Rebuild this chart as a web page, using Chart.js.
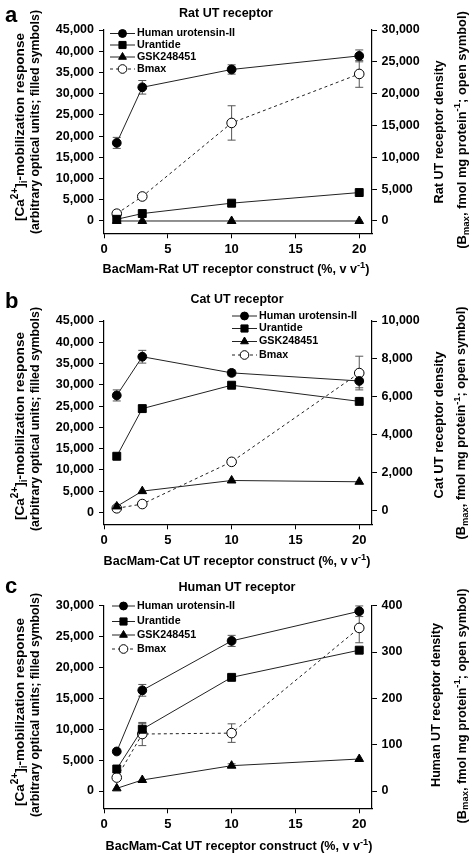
<!DOCTYPE html>
<html>
<head>
<meta charset="utf-8">
<script src="https://cdn.jsdelivr.net/npm/chart.js@4.4.1/dist/chart.umd.min.js"></script>
<style>
  html, body { margin: 0; padding: 0; background: #fff; }
  canvas { display: block; }
</style>
</head>
<body>
<canvas id="panelA" width="474" height="285"></canvas>
<canvas id="panelB" width="474" height="285"></canvas>
<canvas id="panelC" width="474" height="284"></canvas>
<script>
// construct dose (%, v/v)
const doses = [1, 3, 10, 20];
const xTicks = [0, 5, 10, 15, 20];

// a - rat UT receptor
const ratHumanUII = [18400, 31500, 35700, 38900];
const ratHumanUIIErr = [1300, 1600, 1100, 1400];
const ratUrantide = [400, 1750, 4200, 6700];
const ratUrantideErr = [0, 0, 0, 0];
const ratGSK = [0, 0, 0, 0];
const ratGSKErr = [0, 0, 0, 0];
const ratBmax = [1150, 3850, 15400, 23100];
const ratBmaxErr = [0, 0, 2700, 2100];
const ratLeftTicks = [0, 5000, 10000, 15000, 20000, 25000, 30000, 35000, 40000, 45000];
const ratRightTicks = [0, 5000, 10000, 15000, 20000, 25000, 30000];

// b - cat UT receptor
const catHumanUII = [27500, 36600, 32800, 30900];
const catHumanUIIErr = [1300, 1500, 700, 1600];
const catUrantide = [13200, 24400, 29900, 26100];
const catUrantideErr = [0, 800, 0, 0];
const catGSK = [1400, 5000, 7500, 7200];
const catGSKErr = [0, 0, 0, 0];
const catBmax = [105, 330, 2560, 7250];
const catBmaxErr = [0, 0, 0, 890];
const catLeftTicks = [0, 5000, 10000, 15000, 20000, 25000, 30000, 35000, 40000, 45000];
const catRightTicks = [0, 2000, 4000, 6000, 8000, 10000];

// c - human UT receptor
const humHumanUII = [6400, 16300, 24300, 29100];
const humHumanUIIErr = [0, 950, 900, 860];
const humUrantide = [3560, 10000, 18400, 22800];
const humUrantideErr = [0, 900, 0, 0];
const humGSK = [430, 1780, 4100, 5180];
const humGSKErr = [0, 0, 300, 0];
const humBmax = [29, 123, 125, 352];
const humBmaxErr = [0, 25, 20, 32];
const humLeftTicks = [0, 5000, 10000, 15000, 20000, 25000, 30000];
const humRightTicks = [0, 100, 200, 300, 400];

const legendLabels = ["Human urotensin-II", "Urantide", "GSK248451", "Bmax"];

const FONT = "'Liberation Sans', Arial, sans-serif";
const W = 474;

Chart.defaults.font.family = FONT;
Chart.defaults.font.weight = "bold";
Chart.defaults.color = "#000";

const pts = (vals) => vals.map((v, i) => ({ x: doses[i], y: v }));
const px = (n) => Math.round(n * 100) / 100;

function measureRuns(ctx, parts, size) {
  let total = 0;
  const runs = parts.map(([t, kind]) => {
    const s = px(kind ? size * 0.74 : size);
    ctx.font = `bold ${s}px ${FONT}`;
    const w = ctx.measureText(t).width;
    total += w;
    return { t, s, w, dy: kind === "sup" ? -size * 0.38 : kind === "sub" ? size * 0.3 : 0 };
  });
  return { runs, total };
}

// text with super/subscripts, centred on (x, y); optional fit = target width
function drawRich(ctx, parts, x, y, size, rot, fit) {
  ctx.save();
  ctx.translate(x, y);
  if (rot) ctx.rotate(rot);
  ctx.textBaseline = "middle";
  ctx.textAlign = "left";
  ctx.fillStyle = "#000";
  let m = measureRuns(ctx, parts, size);
  if (fit) m = measureRuns(ctx, parts, size * fit / m.total);
  let cx = -m.total / 2;
  m.runs.forEach((r) => {
    ctx.font = `bold ${r.s}px ${FONT}`;
    ctx.fillText(r.t, cx, r.dy);
    cx += r.w;
  });
  ctx.restore();
}

const errorBars = {
  id: "errorBars",
  beforeDatasetsDraw(chart) {
    const ctx = chart.ctx;
    const xs = chart.scales.x;
    ctx.save();
    ctx.strokeStyle = "#555";
    ctx.lineWidth = 1;
    chart.data.datasets.forEach((ds) => {
      const ys = chart.scales[ds.yAxisID];
      ds.data.forEach((p, i) => {
        const e = ds.err[i];
        if (!e) return;
        const x = xs.getPixelForValue(p.x);
        const top = ys.getPixelForValue(p.y + e);
        const bot = ys.getPixelForValue(p.y - e);
        ctx.beginPath();
        ctx.moveTo(x, top); ctx.lineTo(x, bot);
        ctx.moveTo(x - 4, top); ctx.lineTo(x + 4, top);
        ctx.moveTo(x - 4, bot); ctx.lineTo(x + 4, bot);
        ctx.stroke();
      });
    });
    ctx.restore();
  }
};

const panelText = {
  id: "panelText",
  afterDraw(chart) {
    const ctx = chart.ctx;
    const p = chart.options.plugins.panelText;
    ctx.save();
    ctx.fillStyle = "#000";
    ctx.font = `bold 22px ${FONT}`;
    ctx.textBaseline = "alphabetic";
    ctx.textAlign = "left";
    ctx.fillText(p.letter, 5, p.letterY);
    ctx.restore();

    drawRich(ctx, [[p.title]], p.titleX, p.titleY, 12.5, 0, p.titleW);
    drawRich(ctx, [[p.xTitle + " (%, v v"], ["-1", "sup"], [")"]], p.xTitleX, p.xTitleY, 12.5, 0, 267);

    const up = -Math.PI / 2;
    drawRich(ctx, [["[Ca"], ["2+", "sup"], ["]"], ["i", "sub"], ["-mobilization response"]], 20, p.leftY1, 12, up, 188);
    drawRich(ctx, [["(arbitrary optical units; filled symbols)"]], 36, p.leftY2, 12, up, 224);
    drawRich(ctx, [[p.rightTitle]], p.rightX1, p.rightY1, 12, up, p.rightW1);
    drawRich(ctx, [["(B"], ["max", "sub"], [", fmol mg protein"], ["-1", "sup"], ["; open symbol)"]], 462, p.rightY2, 12, up, p.rightW2);

    // legend
    const lg = p.legend;
    ctx.save();
    ctx.font = `bold 11px ${FONT}`;
    const lgSize = px(11 * 98 / ctx.measureText(legendLabels[0]).width);
    ctx.restore();
    chart.data.datasets.forEach((ds, i) => {
      const y = lg.rows[i];
      ctx.save();
      ctx.strokeStyle = "#222";
      ctx.lineWidth = 1;
      ctx.setLineDash(ds.borderDash || []);
      ctx.beginPath();
      ctx.moveTo(lg.x0, y); ctx.lineTo(lg.x1, y);
      ctx.stroke();
      ctx.setLineDash([]);
      ctx.fillStyle = ds.pointBackgroundColor;
      ctx.strokeStyle = "#000";
      ctx.lineWidth = 1;
      Chart.helpers.drawPoint(ctx, { pointStyle: ds.pointStyle, radius: ds.pointRadius * 0.9, rotation: 0, borderWidth: 1 }, (lg.x0 + lg.x1) / 2, y);
      ctx.fillStyle = "#000";
      ctx.font = `bold ${lgSize}px ${FONT}`;
      ctx.textBaseline = "middle";
      ctx.textAlign = "left";
      ctx.fillText(ds.label, lg.x1 + 2, y);
      ctx.restore();
    });
  }
};

function buildPanel(id, p) {
  const canvas = document.getElementById(id);
  const H = canvas.height;
  const axisStyle = {
    grid: { drawOnChartArea: false, color: "#000", tickColor: "#000", tickLength: 5, lineWidth: 1 },
    border: { color: "#000", width: 1.2 }
  };
  const tickFmt = (v) => v.toLocaleString("en-US");
  const line = { borderColor: "#222", borderWidth: 1, pointBorderColor: "#000", pointBorderWidth: 1, fill: false, tension: 0 };

  new Chart(canvas, {
    type: "line",
    data: {
      datasets: [
        { ...line, label: legendLabels[0], data: pts(p.hu), err: p.huErr, yAxisID: "y", pointStyle: "circle", pointRadius: 4.4, pointBackgroundColor: "#000" },
        { ...line, label: legendLabels[1], data: pts(p.ur), err: p.urErr, yAxisID: "y", pointStyle: "rect", pointRadius: 5.6, pointBackgroundColor: "#000" },
        { ...line, label: legendLabels[2], data: pts(p.gsk), err: p.gskErr, yAxisID: "y", pointStyle: "triangle", pointRadius: 5, pointBackgroundColor: "#000" },
        { ...line, label: legendLabels[3], data: pts(p.bmax), err: p.bmaxErr, yAxisID: "y1", pointStyle: "circle", pointRadius: 4.8, pointBackgroundColor: "#fff", borderDash: [3, 3] }
      ]
    },
    options: {
      responsive: false,
      animation: false,
      devicePixelRatio: 1,
      layout: { padding: { top: p.top, left: 0, right: 0, bottom: 0 } },
      plugins: { legend: { display: false }, tooltip: { enabled: false }, panelText: p.text },
      scales: {
        x: {
          type: "linear", min: 0, max: 21, ...axisStyle,
          afterBuildTicks: (ax) => { ax.ticks = xTicks.map((v) => ({ value: v })); },
          afterFit: (ax) => { ax.height = H - p.bottom; },
          ticks: { font: { size: 13, weight: "bold" }, color: "#000", padding: 3, maxRotation: 0, autoSkip: false }
        },
        y: {
          position: "left", min: p.leftMin, max: p.leftTicks[p.leftTicks.length - 1], ...axisStyle,
          afterBuildTicks: (ax) => { ax.ticks = p.leftTicks.map((v) => ({ value: v })); },
          afterFit: (ax) => { ax.width = 104; },
          ticks: { font: { size: 12.5, weight: "bold" }, color: "#000", padding: 5, callback: tickFmt }
        },
        y1: {
          position: "right", min: p.rightMin, max: p.rightTicks[p.rightTicks.length - 1], ...axisStyle,
          afterBuildTicks: (ax) => { ax.ticks = p.rightTicks.map((v) => ({ value: v })); },
          afterFit: (ax) => { ax.width = W - 372; },
          ticks: { font: { size: 12.5, weight: "bold" }, color: "#000", padding: 4.5, callback: tickFmt }
        }
      }
    },
    plugins: [errorBars, panelText]
  });
}

buildPanel("panelA", {
  hu: ratHumanUII, huErr: ratHumanUIIErr, ur: ratUrantide, urErr: ratUrantideErr,
  gsk: ratGSK, gskErr: ratGSKErr, bmax: ratBmax, bmaxErr: ratBmaxErr,
  leftTicks: ratLeftTicks, rightTicks: ratRightTicks, leftMin: -2900, rightMin: -1933,
  top: 30, bottom: 233.3,
  text: {
    letter: "a", letterY: 21.7, title: "Rat UT receptor", titleX: 226, titleY: 14, titleW: 94,
    xTitle: "BacMam-Rat UT receptor construct", xTitleX: 236, xTitleY: 270,
    leftY1: 127, leftY2: 122, rightTitle: "Rat UT receptor density", rightX1: 439, rightY1: 132, rightW1: 143, rightY2: 130, rightW2: 238,
    legend: { x0: 110, x1: 135, rows: [33.5, 45, 57, 69] }
  }
});

buildPanel("panelB", {
  hu: catHumanUII, huErr: catHumanUIIErr, ur: catUrantide, urErr: catUrantideErr,
  gsk: catGSK, gskErr: catGSKErr, bmax: catBmax, bmaxErr: catBmaxErr,
  leftTicks: catLeftTicks, rightTicks: catRightTicks, leftMin: -2800, rightMin: -740,
  top: 36, bottom: 239.3,
  text: {
    letter: "b", letterY: 23.3, title: "Cat UT receptor", titleX: 237, titleY: 15, titleW: 93,
    xTitle: "BacMam-Cat UT receptor construct", xTitleX: 237, xTitleY: 277,
    leftY1: 141, leftY2: 134, rightTitle: "Cat UT receptor density", rightX1: 439, rightY1: 140, rightW1: 147, rightY2: 138, rightW2: 233,
    legend: { x0: 232, x1: 257, rows: [31, 43.5, 56.5, 70] }
  }
});

buildPanel("panelC", {
  hu: humHumanUII, huErr: humHumanUIIErr, ur: humUrantide, urErr: humUrantideErr,
  gsk: humGSK, gskErr: humGSKErr, bmax: humBmax, bmaxErr: humBmaxErr,
  leftTicks: humLeftTicks, rightTicks: humRightTicks, leftMin: -2800, rightMin: -37.3,
  top: 35.7, bottom: 238.3,
  text: {
    letter: "c", letterY: 23.3, title: "Human UT receptor", titleX: 237, titleY: 18, titleW: 117,
    xTitle: "BacMam-Cat UT receptor construct", xTitleX: 239, xTitleY: 277,
    leftY1: 142, leftY2: 135, rightTitle: "Human UT receptor density", rightX1: 437, rightY1: 135, rightW1: 164, rightY2: 136, rightW2: 235,
    legend: { x0: 112, x1: 135, rows: [36, 51.5, 65, 79] }
  }
});
</script>
</body>
</html>
